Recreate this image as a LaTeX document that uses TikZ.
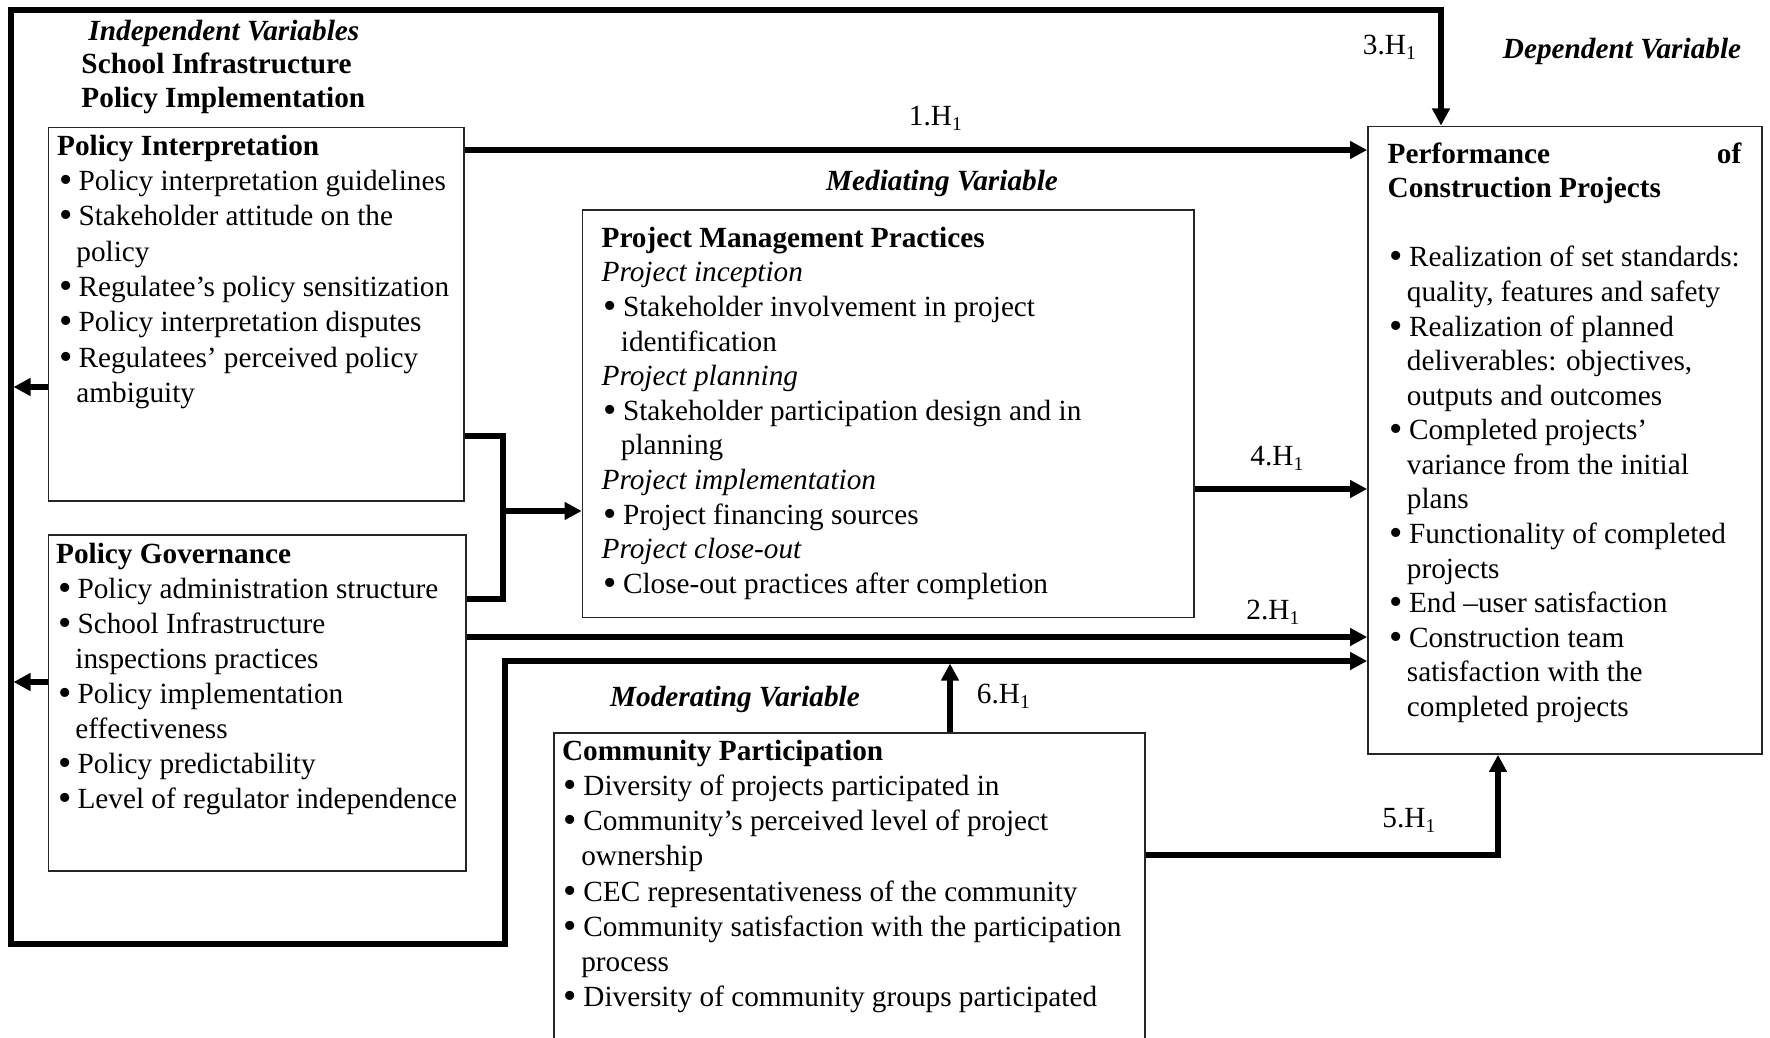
\documentclass[tikz,border=0pt]{standalone}
\usepackage{fontspec}
\setmainfont{Liberation Serif}
\usetikzlibrary{arrows.meta,fit}

% bullet item and its continuation indent
\newcommand\bul{\hspace*{0.8pt}\raisebox{-0.8pt}{\scalebox{1.3}{\textbullet}}\hspace*{2.5pt}}
\newcommand\cont{\hspace*{7.9pt}}
% #1 width, #2 line pitch, #3 lines
\newcommand\lines[3]{\begin{minipage}[t]{#1}\fontsize{12}{#2}\selectfont\raggedright #3\end{minipage}}
\newcommand\hy[1]{#1.H\textsubscript{1}}

\tikzset{
  box/.style={draw=black!85, line width=0.7pt, inner sep=0pt},
  boxtext/.style={anchor=base west, inner sep=0pt},
  conn/.style={line width=2.2pt, line join=miter},
  tip/.style={-{Triangle[length=7pt,width=7pt]}},
  lbl/.style={anchor=base west, inner sep=0pt},
  head/.style={anchor=base, inner sep=0pt, font=\fontsize{12}{14.35}\selectfont\bfseries\itshape},
}

\begin{document}
\begin{tikzpicture}[x=0.41pt, y=-0.41pt, font=\fontsize{12}{14.35}\selectfont]
\useasboundingbox (0,0) rectangle (1770,1038);

% ---- boxes ----
\node[box, fit={(48.5,127.5) (464,501)}] (pi) {};
\node[box, fit={(48.5,535) (466,871)}] (pg) {};
\node[box, fit={(582.5,210) (1194,617.5)}] (pmp) {};
\node[box, fit={(1368,126.4) (1762,754)}] (pf) {};
\node[box, fit={(554,733) (1145,1080)}] (cp) {};

% ---- box contents ----
\node[boxtext] (pitx) at ([shift={(9,28.5)}]pi.north west) {\lines{250pt}{14.5pt}{%
\textbf{Policy Interpretation}\\
\bul Policy interpretation guidelines\\
\bul Stakeholder attitude on the\\
\cont policy\\
\bul Regulatee’s policy sensitization\\
\bul Policy interpretation disputes\\
\bul Regulatees’ perceived policy\\
\cont ambiguity}};

\node[boxtext] (pgtx) at ([shift={(8,29)}]pg.north west) {\lines{250pt}{14.4pt}{%
\textbf{Policy Governance}\\
\bul Policy administration structure\\
\bul School Infrastructure\\
\cont inspections practices\\
\bul Policy implementation\\
\cont effectiveness\\
\bul Policy predictability\\
\bul Level of regulator independence}};

\node[boxtext] (pmptx) at ([shift={(19.5,38)}]pmp.north west) {\lines{250pt}{14.2pt}{%
\textbf{Project Management Practices}\\
\textit{Project inception}\\
\bul Stakeholder involvement in project\\
\cont identification\\
\textit{Project planning}\\
\bul Stakeholder participation design and in\\
\cont planning\\
\textit{Project implementation}\\
\bul Project financing sources\\
\textit{Project close-out}\\
\bul Close-out practices after completion}};

\node[boxtext] (pftx) at ([shift={(20,37.6)}]pf.north west) {\lines{145.1pt}{14.18pt}{%
\textbf{Performance}\hfill\textbf{of}\\
\textbf{Construction Projects}\\
\mbox{}\\
\bul Realization of set standards:\\
\cont quality, features and safety\\
\bul Realization of planned\\
\cont deliverables: objectives,\\
\cont outputs and outcomes\\
\bul Completed projects’\\
\cont variance from the initial\\
\cont plans\\
\bul Functionality of completed\\
\cont projects\\
\bul End –user satisfaction\\
\bul Construction team\\
\cont satisfaction with the\\
\cont completed projects}};

\node[boxtext] (cptx) at ([shift={(8.4,28)}]cp.north west) {\lines{250pt}{14.45pt}{%
\textbf{Community Participation}\\
\bul Diversity of projects participated in\\
\bul Community’s perceived level of project\\
\cont ownership\\
\bul CEC representativeness of the community\\
\bul Community satisfaction with the participation\\
\cont process\\
\bul Diversity of community groups participated}};

% ---- headings ----
\node[lbl, font=\fontsize{12}{14.35}\selectfont\bfseries\itshape] (iv) at (88,41) {Independent Variables};
\node[lbl, font=\fontsize{12}{14.35}\selectfont\bfseries] (si) at (81,74) {School Infrastructure};
\node[lbl, font=\fontsize{12}{14.35}\selectfont\bfseries] (pim) at (81,108) {Policy Implementation};
\node[head] (mv) at (942,191) {Mediating Variable};
\node[head] (dv) at (1622,58.6) {Dependent Variable};
\node[head] (mod) at (735,707) {Moderating Variable};

% ---- hypothesis labels ----
\node[lbl] (h3) at (1362.5,55) {\hy{3}};
\node[lbl] (h1) at (908.5,126) {\hy{1}};
\node[lbl] (h4) at (1250,466) {\hy{4}};
\node[lbl] (h2) at (1246,620) {\hy{2}};
\node[lbl] (h5) at (1382,828) {\hy{5}};
\node[lbl] (h6) at (976.5,704) {\hy{6}};

% ---- connector waypoints ----
\coordinate (tl) at (11,10);
\coordinate (tr) at (1441,10);
\coordinate (bl) at (11,944);
\coordinate (br) at (505,944);
\coordinate (lp) at (505,661);
\coordinate (fl1) at (13.5,387);
\coordinate (fl2) at (13.5,682);
\coordinate (b1) at (503,436);
\coordinate (b2) at (503,599);
\coordinate (b3) at (503,511);
\coordinate (y1) at (0,150);
\coordinate (y4) at (0,489);
\coordinate (y2) at (0,637);
\coordinate (c5) at (1498,855);
\coordinate (c6) at (950,663.5);

% ---- connectors ----
\draw[conn, {Triangle[length=7pt,width=7pt]}-{Triangle[length=7pt,width=7pt]}]
  (tr |- pf.north) -- (tr) -- (tl) -- (bl) -- (br) -- (lp) -- (lp -| pf.west);
\draw[conn, tip] (pi.west |- fl1) -- (fl1);
\draw[conn, tip] (pg.west |- fl2) -- (fl2);
\draw[conn] (pi.east |- b1) -- (b1) -- (b2) -- (pg.east |- b2);
\draw[conn, tip] (b3) -- (pmp.west |- b3);
\draw[conn, tip] (pi.east |- y1) -- (pf.west |- y1);
\draw[conn, tip] (pmp.east |- y4) -- (pf.west |- y4);
\draw[conn, tip] (pg.east |- y2) -- (pf.west |- y2);
\draw[conn, tip] (cp.east |- c5) -- (c5) -- (pf.south -| c5);
\draw[conn, tip] (cp.north -| c6) -- (c6);
\end{tikzpicture}
\end{document}
